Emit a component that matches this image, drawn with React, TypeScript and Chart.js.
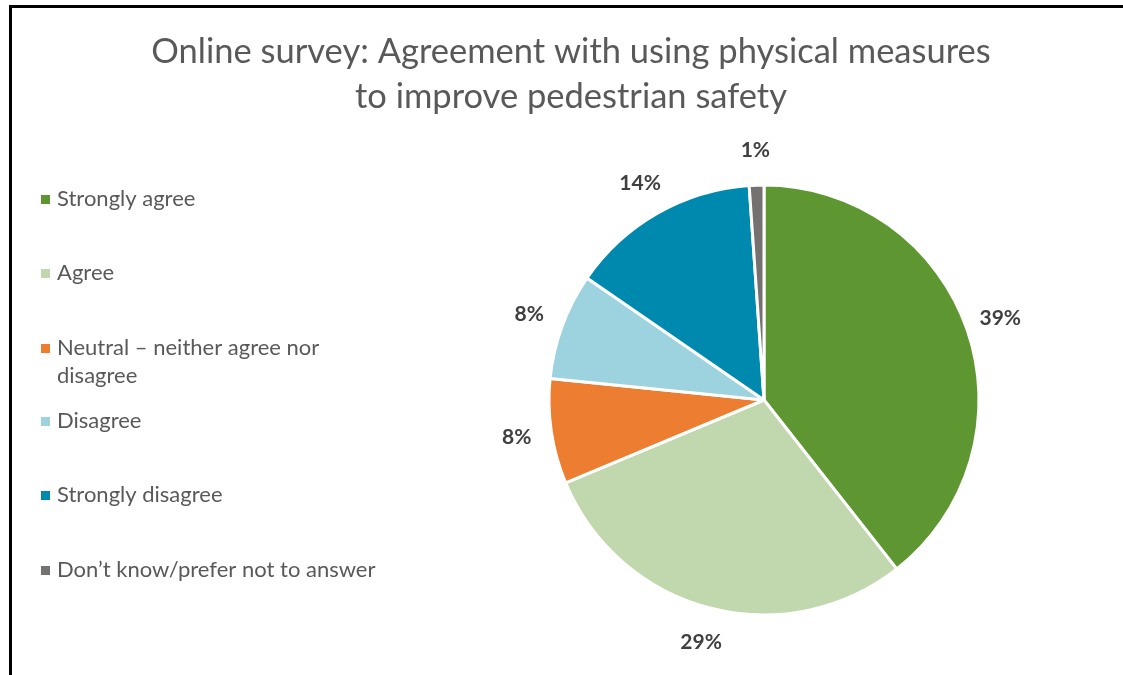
import React, { useEffect, useRef } from "react";
import { Chart, registerables } from "chart.js";

Chart.register(...registerables);

const titleLines = [
  "Online survey: Agreement with using physical measures",
  "to improve pedestrian safety",
];
const categories = [
  "Strongly agree",
  "Agree",
  "Neutral – neither agree nor disagree",
  "Disagree",
  "Strongly disagree",
  "Don’t know/prefer not to answer",
];
const legendLines = [
  ["Strongly agree"],
  ["Agree"],
  ["Neutral – neither agree nor", "disagree"],
  ["Disagree"],
  ["Strongly disagree"],
  ["Don’t know/prefer not to answer"],
];
const values = [39.4, 29.3, 7.9, 8.0, 14.3, 1.1];
const colors = ["#5e9732", "#c1d7ae", "#ed7d31", "#9dd2df", "#0089ae", "#767171"];

const FONT = "Lato, 'Open Sans', sans-serif";

const framePlugin = {
  id: "frame",
  beforeDraw(chart: any) {
    const ctx = chart.ctx;
    ctx.save();
    ctx.fillStyle = "#ffffff";
    ctx.fillRect(0, 0, chart.width, chart.height);
    ctx.fillStyle = "#000000";
    ctx.fillRect(9, 5, chart.width - 9, 3);
    ctx.fillRect(9, 5, 3, chart.height - 5);
    // title
    ctx.fillStyle = "#595959";
    ctx.font = `34.5px ${FONT}`;
    ctx.textAlign = "center";
    ctx.textBaseline = "middle";
    titleLines.forEach((t, i) => ctx.fillText(t, 571, 52 + i * 45));
    // legend
    ctx.font = `22px ${FONT}`;
    ctx.textAlign = "left";
    const ys = [199, 273, 348, 421, 495, 570];
    legendLines.forEach((lines, i) => {
      ctx.fillStyle = colors[i];
      ctx.fillRect(41, ys[i] - 4, 9, 9);
      ctx.fillStyle = "#595959";
      lines.forEach((l, j) => ctx.fillText(l, 57, ys[i] + j * 28));
    });
    ctx.restore();
  },
};

const labelPlugin = {
  id: "outLabels",
  afterDatasetsDraw(chart: any) {
    const ctx = chart.ctx;
    const meta = chart.getDatasetMeta(0);
    ctx.save();
    ctx.font = `bold 21px ${FONT}`;
    ctx.fillStyle = "#404040";
    ctx.textAlign = "center";
    ctx.textBaseline = "middle";
    meta.data.forEach((arc: any, i: number) => {
      const p = arc.getProps(["x", "y", "startAngle", "endAngle", "outerRadius"], true);
      const mid = (p.startAngle + p.endAngle) / 2;
      const r = p.outerRadius + 35;
      const v = chart.data.datasets[0].data[i];
      ctx.fillText(`${Math.round(v)}%`, p.x + Math.cos(mid) * r, p.y + Math.sin(mid) * r);
    });
    ctx.restore();
  },
};

export default function App() {
  const ref = useRef<HTMLCanvasElement>(null);
  useEffect(() => {
    const chart = new Chart(ref.current!, {
      type: "pie",
      data: {
        labels: categories,
        datasets: [
          {
            data: values,
            backgroundColor: colors,
            borderColor: "#ffffff",
            borderWidth: 3,
            radius: 215,
          } as any,
        ],
      },
      options: {
        animation: false,
        responsive: false,
        layout: { padding: { left: 440, right: 35, top: 150, bottom: 25 } },
        plugins: { legend: { display: false }, tooltip: { enabled: false }, title: { display: false } },
      },
      plugins: [framePlugin, labelPlugin],
    });
    return () => chart.destroy();
  }, []);
  return (
    <div style={{ position: "fixed", left: 0, top: 0, width: 1123, height: 675, background: "#fff" }}>
      <canvas ref={ref} width={1123} height={675} style={{ width: 1123, height: 675 }} />
    </div>
  );
}
